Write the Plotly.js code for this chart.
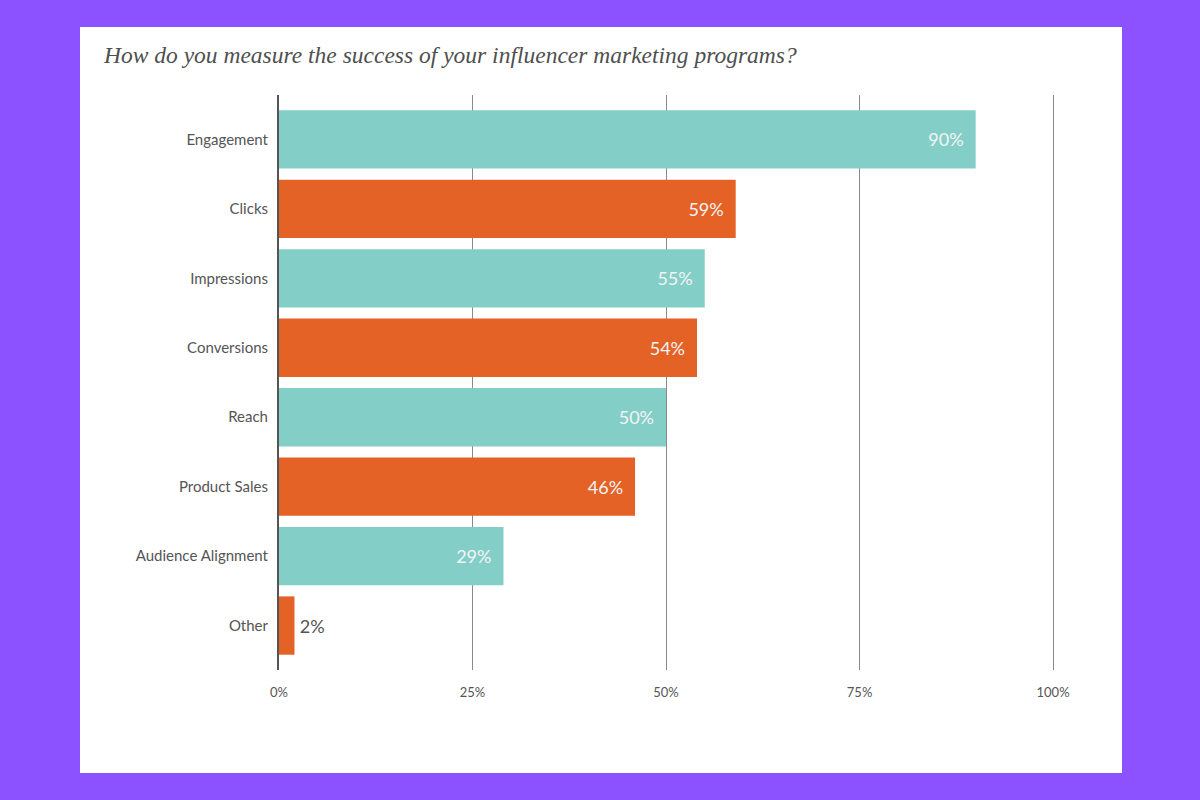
<!DOCTYPE html>
<html>
<head>
<meta charset="utf-8">
<script src="https://cdn.plot.ly/plotly-3.0.1.min.js"></script>
<style>html,body{margin:0;padding:0;background:#8c52ff;}</style>
</head>
<body>
<div id="chart" style="width:1200px;height:800px;"></div>
<script>
const categories = ["Engagement","Clicks","Impressions","Conversions","Reach","Product Sales","Audience Alignment","Other"];
const values = [90, 59, 55, 54, 50, 46, 29, 2];
const barColors = ["#83cfc7","#e46226","#83cfc7","#e46226","#83cfc7","#e46226","#83cfc7","#e46226"];
const tickVals = [0, 25, 50, 75, 100];
const tickLabels = ["0%","25%","50%","75%","100%"];
const titleText = "How do you measure the success of your influencer marketing programs?";

const textPos = values.map(v => v < 10 ? "outside" : "inside");
const labels = values.map(v => v < 10 ? "\u2009" + v + "%" : v + "%\u2002");

const trace = {
  type: "bar",
  orientation: "h",
  y: categories,
  x: values,
  marker: {color: barColors, line: {width: 0}},
  width: 0.84,
  text: labels,
  textinfo: "text",
  textposition: textPos,
  insidetextanchor: "end",
  insidetextfont: {family: "Lato, 'Open Sans', sans-serif", size: 18, color: "#f4f4f4"},
  outsidetextfont: {family: "Lato, 'Open Sans', sans-serif", size: 18, color: "#555555"},
  cliponaxis: false,
  hoverinfo: "skip"
};

const layout = {
  width: 1200,
  height: 800,
  paper_bgcolor: "#8c52ff",
  plot_bgcolor: "#ffffff",
  margin: {l: 279, r: 145, t: 95, b: 130},
  showlegend: false,
  title: {
    text: "<i>" + titleText + "</i>",
    font: {family: "'Liberation Serif', 'DejaVu Serif', serif", size: 23.5, color: "#4f4f4f"},
    xref: "container", yref: "container",
    x: 104/1200, xanchor: "left",
    y: 1 - 55/800, yanchor: "middle"
  },
  xaxis: {
    range: [0, 100.25],
    tickvals: tickVals,
    ticktext: tickLabels,
    showgrid: true,
    gridcolor: "#8a8a8a",
    gridwidth: 1,
    zeroline: false,
    showline: false,
    ticks: "outside",
    ticklen: 10,
    tickcolor: "rgba(0,0,0,0)",
    tickfont: {family: "Lato, 'Open Sans', sans-serif", size: 13, color: "#555555"},
    fixedrange: true
  },
  yaxis: {
    autorange: false,
    range: [7.64, -0.64],
    type: "category",
    showgrid: false,
    zeroline: false,
    showline: true,
    linecolor: "#555555",
    linewidth: 2,
    ticks: "outside",
    ticklen: 6,
    tickcolor: "rgba(0,0,0,0)",
    tickfont: {family: "Lato, 'Open Sans', sans-serif", size: 15, color: "#555555"},
    fixedrange: true
  },
  shapes: [{
    type: "rect", xref: "paper", yref: "paper", layer: "below",
    x0: (80-279)/776, x1: (1122-279)/776,
    y0: (670-773)/575, y1: (670-27)/575,
    fillcolor: "#ffffff", line: {width: 0}
  }]
};

Plotly.newPlot("chart", [trace], layout, {displayModeBar: false, staticPlot: true});
</script>
</body>
</html>
